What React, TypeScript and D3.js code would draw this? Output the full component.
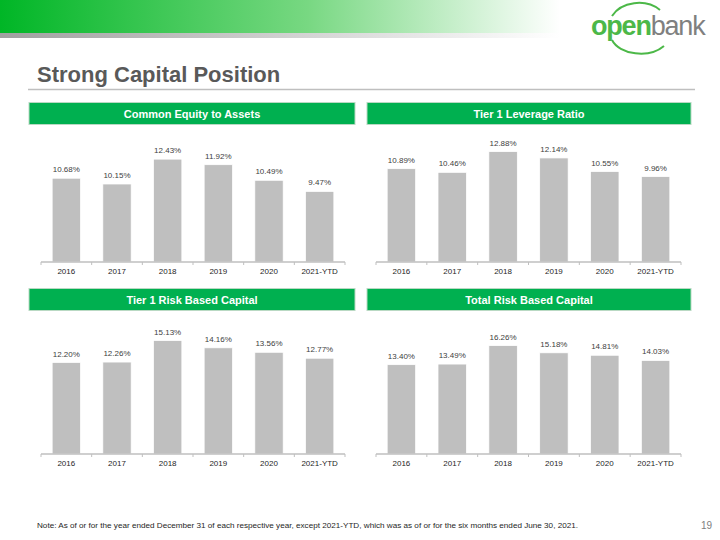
import React from "react";
import * as d3 from "d3";

const categories = ["2016", "2017", "2018", "2019", "2020", "2021-YTD"];
const commonEquity = [10.68, 10.15, 12.43, 11.92, 10.49, 9.47];
const tier1Leverage = [10.89, 10.46, 12.88, 12.14, 10.55, 9.96];
const tier1RiskBased = [12.2, 12.26, 15.13, 14.16, 13.56, 12.77];
const totalRiskBased = [13.4, 13.49, 16.26, 15.18, 14.81, 14.03];
const panelTitles = ["Common Equity to Assets", "Tier 1 Leverage Ratio", "Tier 1 Risk Based Capital", "Total Risk Based Capital"];
const domains: [number, number][] = [[3, 14], [0, 14], [0, 16], [0, 18]];

const FONT = "Arial, 'Liberation Sans', Helvetica, sans-serif";

function Panel({ title, values, domain, x0, x1, axisY, headX0, headX1, headY }: any) {
  const x = d3.scaleBand<string>().domain(categories).range([x0, x1]).paddingInner(0.44).paddingOuter(0.22);
  const bandStep = (x1 - x0) / categories.length;
  const y = d3.scaleLinear().domain(domain).range([axisY, axisY - 120]);
  const ticks = d3.range(categories.length + 1).map((i) => x0 + i * bandStep);
  return (
    <g>
      <rect x={headX0} y={headY} width={headX1 - headX0} height={22} fill="#00b050" stroke="#b9d9c3" strokeWidth={1} />
      <text x={(headX0 + headX1) / 2} y={headY + 15} textAnchor="middle" fill="#ffffff" fontWeight="bold" fontSize={11} fontFamily={FONT}>
        {title}
      </text>
      {categories.map((c, i) => (
        <g key={c}>
          <rect x={x(c)} y={y(values[i])} width={x.bandwidth()} height={axisY - y(values[i])} fill="#bfbfbf" stroke="#ffffff" strokeWidth={0.75} />
          <text x={(x(c) as number) + x.bandwidth() / 2} y={y(values[i]) - 6} textAnchor="middle" fontSize={8} fill="#404040" fontFamily={FONT}>
            {values[i].toFixed(2) + "%"}
          </text>
          <text x={(x(c) as number) + x.bandwidth() / 2} y={axisY + 12} textAnchor="middle" fontSize={8} fill="#262626" fontFamily={FONT}>
            {c}
          </text>
        </g>
      ))}
      <line x1={x0} x2={x1} y1={axisY} y2={axisY} stroke="#bfbfbf" strokeWidth={1.4} />
      {ticks.map((t, i) => (
        <line key={i} x1={t} x2={t} y1={axisY} y2={axisY + 3} stroke="#bfbfbf" strokeWidth={1} />
      ))}
    </g>
  );
}

export default function App() {
  const seriesList = [commonEquity, tier1Leverage, tier1RiskBased, totalRiskBased];
  const layout = [
    { x0: 41, x1: 345, axisY: 262, headX0: 29, headX1: 355, headY: 102.5 },
    { x0: 376, x1: 681, axisY: 262, headX0: 367, headX1: 691, headY: 102.5 },
    { x0: 41, x1: 345, axisY: 454, headX0: 29, headX1: 355, headY: 288.5 },
    { x0: 376, x1: 681, axisY: 454, headX0: 367, headX1: 691, headY: 288.5 },
  ];
  return (
    <svg width={720} height={540} style={{ position: "absolute", left: 0, top: 0, background: "#fff" }}>
      <defs>
        <linearGradient id="greenBand" x1="0" x2="1" y1="0" y2="0">
          <stop offset="0" stopColor="#00b626" />
          <stop offset="0.55" stopColor="#78d882" />
          <stop offset="1" stopColor="#ffffff" />
        </linearGradient>
        <linearGradient id="grayBand" x1="0" x2="1" y1="0" y2="0">
          <stop offset="0" stopColor="#a0a0a0" />
          <stop offset="1" stopColor="#ffffff" />
        </linearGradient>
      </defs>
      <rect x={0} y={0} width={720} height={540} fill="#ffffff" />
      <rect x={0} y={0} width={560} height={33} fill="url(#greenBand)" />
      <rect x={0} y={33} width={560} height={5} fill="url(#grayBand)" />
      {/* logo */}
      <path d="M 612 16 A 30 24 0 0 1 660 10" fill="none" stroke="#4cb848" strokeWidth={2} />
      <path d="M 612 40 A 30 20 0 0 0 664 46" fill="none" stroke="#4cb848" strokeWidth={2} />
      <text x={591} y={35} fontSize={27} fontFamily={FONT} letterSpacing={-1.2}>
        <tspan fill="#4cb848" fontWeight="bold">open</tspan>
        <tspan fill="#808080">bank</tspan>
      </text>
      <text x={37} y={82} fontSize={22} fontWeight="bold" fill="#595959" fontFamily={FONT}>
        Strong Capital Position
      </text>
      <line x1={28} x2={695} y1={89.5} y2={89.5} stroke="#bfbfbf" strokeWidth={1.5} />
      {seriesList.map((vals, i) => (
        <Panel key={i} title={panelTitles[i]} values={vals} domain={domains[i]} {...layout[i]} />
      ))}
      <text x={37} y={528} fontSize={7.5} fill="#262626" fontFamily={FONT} textLength={541} lengthAdjust="spacingAndGlyphs">
        Note: As of or for the year ended December 31 of each respective year, except 2021-YTD, which was as of or for the six months ended June 30, 2021.
      </text>
      <text x={712} y={529} fontSize={10} fill="#808080" fontFamily={FONT} textAnchor="end">
        19
      </text>
    </svg>
  );
}
